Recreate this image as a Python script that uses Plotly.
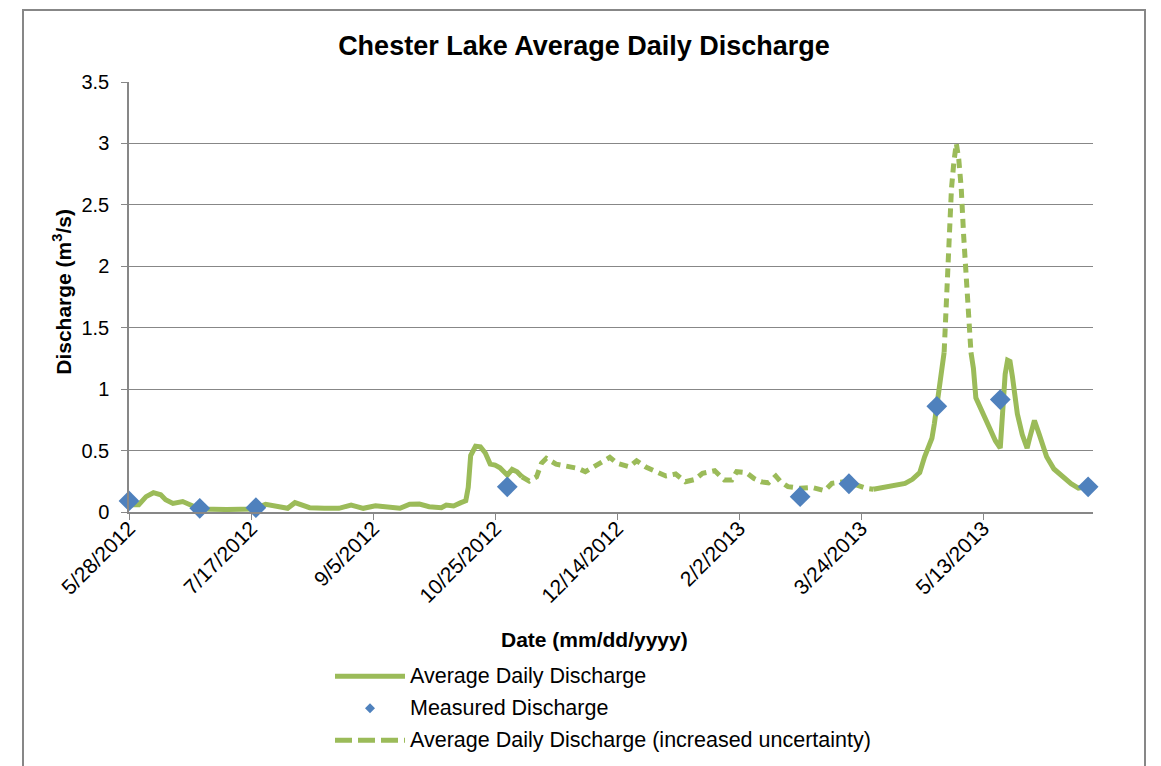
import pandas as pd
import plotly.graph_objects as go

W, H = 1161, 766
START = pd.Timestamp("2012-05-28")

# ---------------- data (days since 5/28/2012, discharge m3/s) ----------------
solid1_days = [0, 1, 4, 7, 10, 13, 15, 18, 22, 25, 29, 40, 51, 56, 60, 65, 68, 71, 74, 80,
               86, 91, 96, 101, 106, 111, 115, 119, 123, 128, 130, 133, 136, 138, 139, 140,
               142, 144, 146, 148, 150, 152, 155, 157, 159, 161]
solid1_vals = [0.07, 0.06, 0.06, 0.125, 0.157, 0.14, 0.10, 0.07, 0.085, 0.057, 0.025, 0.02,
               0.025, 0.063, 0.05, 0.03, 0.076, 0.057, 0.035, 0.03, 0.03, 0.057, 0.03, 0.05,
               0.035, 0.03, 0.063, 0.065, 0.043, 0.035, 0.057, 0.049, 0.076, 0.092, 0.2, 0.46,
               0.535, 0.53, 0.48, 0.39, 0.382, 0.36, 0.30, 0.347, 0.328, 0.287]

solid2_days = [305, 310, 315, 318, 321, 324, 326, 328, 329, 330, 331, 332, 333, 334]
solid2_vals = [0.185, 0.2, 0.22, 0.233, 0.266, 0.32, 0.45, 0.56, 0.6, 0.72, 0.86, 1.0, 1.1, 1.3]

solid3_days = [345, 346, 347, 350, 353, 355, 357, 358, 359, 360, 361, 362, 363, 364, 366,
               368, 369, 370, 371, 373, 374, 376, 379, 382, 386, 389, 392]
solid3_vals = [1.3, 1.17, 0.93, 0.8, 0.665, 0.58, 0.52, 0.85, 1.12, 1.235, 1.225, 1.1, 0.93,
               0.8, 0.63, 0.52, 0.6, 0.69, 0.745, 0.63, 0.56, 0.45, 0.35, 0.295, 0.23, 0.195,
               0.205]

dashed1_days = [161, 164, 167, 169, 171, 175, 179, 184, 187, 190, 194, 197, 200, 205, 208,
                212, 216, 220, 224, 228, 232, 235, 240, 244, 247, 249, 253, 256, 259, 262,
                265, 267, 270, 275, 280, 285, 288, 293, 298, 302, 305]
dashed1_vals = [0.287, 0.252, 0.287, 0.396, 0.437, 0.39, 0.374, 0.355, 0.328, 0.368, 0.409,
                0.445, 0.396, 0.368, 0.417, 0.363, 0.328, 0.293, 0.309, 0.246, 0.266, 0.315,
                0.336, 0.26, 0.26, 0.328, 0.32, 0.274, 0.246, 0.238, 0.293, 0.246, 0.206,
                0.193, 0.2, 0.173, 0.233, 0.246, 0.22, 0.193, 0.185]

dashed2_days = [334, 335, 336, 337, 338, 339, 340, 341, 342, 343, 344, 345]
dashed2_vals = [1.3, 1.8, 2.3, 2.63, 2.85, 3.0, 2.87, 2.64, 2.25, 1.92, 1.6, 1.3]

measured_days = [0, 29, 52, 155, 275, 295, 331, 357, 393]
measured_vals = [0.09, 0.03, 0.035, 0.205, 0.125, 0.23, 0.86, 0.915, 0.205]

x_tick_labels = ["5/28/2012", "7/17/2012", "9/5/2012", "10/25/2012", "12/14/2012",
                 "2/2/2013", "3/24/2013", "5/13/2013"]
y_tick_vals = [0, 0.5, 1, 1.5, 2, 2.5, 3, 3.5]
y_tick_labels = ["0", "0.5", "1", "1.5", "2", "2.5", "3", "3.5"]
AXIS_END_DAY = 395

series_names = ["Average Daily Discharge", "Measured Discharge",
                "Average Daily Discharge (increased uncertainty)"]

# ---------------- styling ----------------
GREEN = "#9BBB59"
BLUE = "#4F81BD"
GREY = "#878787"
FONT = "Liberation Sans, Arial, Helvetica, sans-serif"

# plot-area pixel geometry
L, R, T, B = 129, 1093, 82, 512.5


def px_x(px):
    return (px - L) / (R - L)


def px_y(py):
    return (B - py) / (B - T)


def to_dates(days):
    return [START + pd.Timedelta(days=d) for d in days]


def join(*segs):
    xs, ys = [], []
    for i, (d, v) in enumerate(segs):
        if i:
            xs.append(None)
            ys.append(None)
        xs += to_dates(d)
        ys += list(v)
    return xs, ys


sx, sy = join((solid1_days, solid1_vals), (solid2_days, solid2_vals), (solid3_days, solid3_vals))
dx, dy = join((dashed1_days, dashed1_vals), (dashed2_days, dashed2_vals))

fig = go.Figure()
fig.add_trace(go.Scatter(x=sx, y=sy, mode="lines", name=series_names[0],
                         line=dict(color=GREEN, width=5), connectgaps=False,
                         showlegend=False))
fig.add_trace(go.Scatter(x=dx, y=dy, mode="lines", name=series_names[2],
                         line=dict(color=GREEN, width=5, dash="9px,6px"),
                         connectgaps=False, showlegend=False))
fig.add_trace(go.Scatter(x=to_dates(measured_days), y=measured_vals, mode="markers",
                         name=series_names[1],
                         marker=dict(symbol="diamond", size=16, color=BLUE,
                                     line=dict(width=0)),
                         showlegend=False, cliponaxis=False))

tick_dates = pd.to_datetime(x_tick_labels, format="%m/%d/%Y")

fig.update_xaxes(type="date", range=[START, START + pd.Timedelta(days=AXIS_END_DAY)],
                 tickvals=list(tick_dates), ticktext=x_tick_labels, tickangle=-45,
                 ticks="outside", ticklen=6, tickcolor=GREY, tickwidth=1.3,
                 ticklabelstandoff=-12,
                 showline=True, linecolor=GREY, linewidth=1.5, showgrid=False,
                 zeroline=False, tickfont=dict(size=21, color="black", family=FONT))
fig.update_yaxes(range=[0, 3.5], tickvals=y_tick_vals, ticktext=y_tick_labels,
                 showgrid=True, gridcolor=GREY, gridwidth=1.3,
                 ticks="outside", ticklen=6, tickcolor=GREY, tickwidth=1.3,
                 ticklabelstandoff=8,
                 showline=True, linecolor=GREY, linewidth=1.5, zeroline=False,
                 tickfont=dict(size=20, color="black", family=FONT))

shapes = [
    dict(type="rect", xref="paper", yref="paper", x0=px_x(23), x1=px_x(1145),
         y0=px_y(820), y1=px_y(10), line=dict(color=GREY, width=2), layer="below"),
    dict(type="line", xref="paper", yref="paper", x0=px_x(335), x1=px_x(405),
         y0=px_y(677), y1=px_y(677), line=dict(color=GREEN, width=5)),
    dict(type="line", xref="paper", yref="paper", x0=px_x(335), x1=px_x(405),
         y0=px_y(741), y1=px_y(741), line=dict(color=GREEN, width=5, dash="17px,6px")),
    dict(type="path", xref="paper", yref="paper", xsizemode="pixel", ysizemode="pixel",
         xanchor=px_x(370), yanchor=px_y(709), path="M -5,0 L 0,5 L 5,0 L 0,-5 Z",
         fillcolor=BLUE, line=dict(width=0)),
]

annotations = [
    dict(text="<b>Date (mm/dd/yyyy)</b>", xref="paper", yref="paper", x=px_x(594),
         y=px_y(640), showarrow=False, xanchor="center", yanchor="middle",
         font=dict(size=21, color="black", family=FONT)),
    dict(text="<b>Discharge (m<sup>3</sup>/s)</b>", xref="paper", yref="paper", x=px_x(62),
         y=px_y(292), showarrow=False, xanchor="center", yanchor="middle", textangle=-90,
         font=dict(size=21, color="black", family=FONT)),
]
for name, py in zip(series_names, [677, 709, 741]):
    annotations.append(dict(text=name, xref="paper", yref="paper", x=px_x(408), y=px_y(py),
                            showarrow=False, xanchor="left", yanchor="middle",
                            font=dict(size=21.5, color="black", family=FONT)))

fig.update_layout(
    width=W, height=H,
    margin=dict(l=L, r=W - R, t=T, b=H - B, autoexpand=False),
    paper_bgcolor="white", plot_bgcolor="white",
    font=dict(family=FONT, color="black"),
    title=dict(text="<b>Chester Lake Average Daily Discharge</b>", xref="container",
               yref="container", x=584 / W, y=1 - 46 / H, xanchor="center",
               yanchor="middle", font=dict(size=27, color="black", family=FONT)),
    shapes=shapes, annotations=annotations,
)

fig.write_html("out.html", config={"displayModeBar": False},
               post_script="document.body.style.margin='0';")
